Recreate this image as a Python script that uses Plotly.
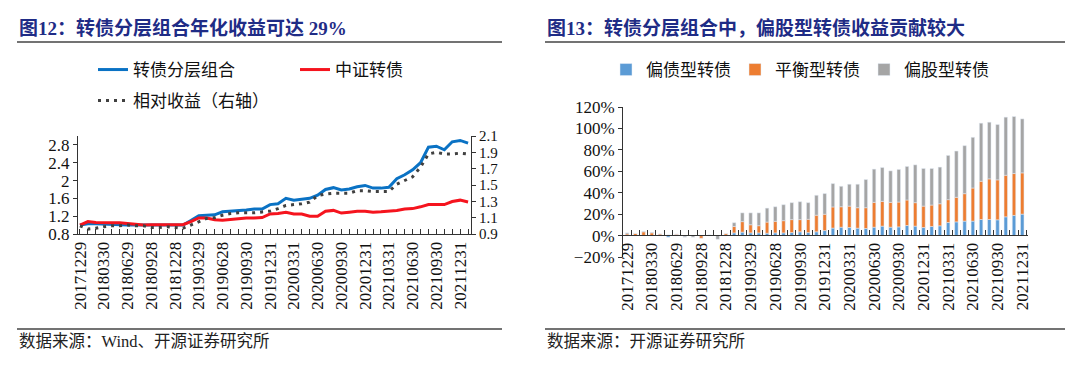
import plotly.graph_objects as go

# ---------------- data ----------------
dates = [
    "20171229",
    "20180131", "20180228", "20180330", "20180427", "20180531", "20180629",
    "20180731", "20180831", "20180928", "20181031", "20181130", "20181228",
    "20190131", "20190228", "20190329", "20190430", "20190531", "20190628",
    "20190731", "20190830", "20190930", "20191031", "20191129", "20191231",
    "20200123", "20200228", "20200331", "20200430", "20200529", "20200630",
    "20200731", "20200831", "20200930", "20201030", "20201130", "20201231",
    "20210129", "20210226", "20210331", "20210430", "20210531", "20210630",
    "20210730", "20210831", "20210930", "20211029", "20211130", "20211231",
    "20220128",
]

# 转债分层组合 (left axis)
portfolio = [
    1.00, 1.03, 1.03, 1.02, 1.02, 1.01, 1.00, 1.00, 1.00, 0.99,
    1.00, 1.00, 0.99, 1.00, 1.10, 1.21, 1.22, 1.23, 1.30, 1.31,
    1.33, 1.34, 1.36, 1.36, 1.46, 1.48, 1.60, 1.56, 1.58, 1.60,
    1.67, 1.80, 1.84, 1.79, 1.81, 1.86, 1.89, 1.83, 1.83, 1.85,
    2.04, 2.13, 2.24, 2.40, 2.75, 2.77, 2.69, 2.87, 2.90, 2.84,
]
# 中证转债 (left axis)
cb_index = [
    1.00, 1.08, 1.06, 1.05, 1.05, 1.05, 1.03, 1.01, 1.00, 1.01,
    1.01, 1.01, 1.02, 1.01, 1.08, 1.16, 1.16, 1.12, 1.11, 1.13,
    1.15, 1.16, 1.16, 1.17, 1.25, 1.26, 1.29, 1.25, 1.25, 1.20,
    1.20, 1.31, 1.33, 1.27, 1.29, 1.31, 1.31, 1.29, 1.30, 1.31,
    1.33, 1.36, 1.37, 1.41, 1.46, 1.46, 1.46, 1.53, 1.56, 1.52,
]
# 相对收益 (right axis)
relative = [
    1.00, 0.96, 0.97, 0.99, 1.00, 1.00, 1.01, 1.00, 1.00, 0.98,
    0.98, 0.99, 0.98, 0.97, 1.01, 1.05, 1.09, 1.10, 1.13, 1.15,
    1.16, 1.16, 1.16, 1.17, 1.18, 1.21, 1.25, 1.26, 1.27, 1.29,
    1.37, 1.39, 1.40, 1.40, 1.40, 1.43, 1.43, 1.42, 1.42, 1.42,
    1.51, 1.56, 1.60, 1.72, 1.88, 1.90, 1.88, 1.88, 1.89, 1.88,
]

bar_dates = dates[:49]
# contributions (fraction)
bond_like = [
    0.000, 0.000, 0.000, 0.000, 0.000, -0.015, 0.000, -0.005, 0.000, 0.000,
    0.000, 0.000, 0.000, 0.025, 0.032, 0.025, 0.025, 0.022, 0.025, 0.025,
    0.028, 0.035, 0.028, 0.035, 0.047, 0.070, 0.078, 0.075, 0.069, 0.066,
    0.078, 0.088, 0.078, 0.081, 0.094, 0.088, 0.075, 0.085, 0.091, 0.122,
    0.128, 0.135, 0.135, 0.150, 0.150, 0.147, 0.175, 0.188, 0.200,
]
balanced = [
    0.015, 0.020, 0.035, 0.025, 0.015, 0.005, 0.013, 0.000, 0.000, -0.025,
    0.005, 0.000, 0.018, 0.060, 0.098, 0.076, 0.067, 0.104, 0.108, 0.114,
    0.121, 0.114, 0.124, 0.155, 0.152, 0.197, 0.191, 0.200, 0.191, 0.194,
    0.232, 0.231, 0.232, 0.232, 0.238, 0.219, 0.200, 0.200, 0.206, 0.213,
    0.229, 0.256, 0.309, 0.357, 0.379, 0.373, 0.388, 0.391, 0.385,
]
equity_like = [
    0.010, 0.000, 0.005, 0.005, 0.000, 0.000, 0.000, -0.010, -0.015, 0.000,
    0.000, -0.035, 0.000, 0.035, 0.082, 0.111, 0.120, 0.130, 0.136, 0.149,
    0.158, 0.167, 0.155, 0.186, 0.193, 0.218, 0.191, 0.204, 0.219, 0.263,
    0.310, 0.316, 0.294, 0.304, 0.313, 0.353, 0.351, 0.341, 0.342, 0.413,
    0.432, 0.448, 0.473, 0.542, 0.529, 0.516, 0.542, 0.532, 0.504,
]

tick_text = [d if i % 3 == 0 else "" for i, d in enumerate(dates)]
bar_tick_text = [d if i % 3 == 0 else "" for i, d in enumerate(bar_dates)]

# ---------------- layout helpers ----------------
W, H = 1080, 376
def fx(p):
    return p / W
def fy(p):
    return 1 - p / H

SERIF = "Liberation Serif, 'Noto Sans CJK SC', serif"
TITLE_FONT = dict(family=SERIF, size=19, color="#1F2C86")
TICK_FONT = dict(family="Liberation Serif, serif", size=17, color="#111111")
TICK_FONT_R = dict(family="Liberation Serif, serif", size=15, color="#111111")
LEG_FONT = dict(family=SERIF, size=17, color="#111111")

BLUE = "#0A72C4"
RED = "#F5141E"
DOT = "#404040"
C_BOND = "#5B9BD5"
C_BAL = "#ED7D31"
C_EQ = "#A5A5A5"

fig = go.Figure()

fig.add_trace(go.Scatter(x=dates, y=portfolio, mode="lines", name="转债分层组合",
                         line=dict(color=BLUE, width=3), xaxis="x", yaxis="y",
                         legend="legend", showlegend=True))
fig.add_trace(go.Scatter(x=dates, y=cb_index, mode="lines", name="中证转债",
                         line=dict(color=RED, width=3), xaxis="x", yaxis="y",
                         legend="legend2", showlegend=True))
fig.add_trace(go.Scatter(x=dates, y=relative, mode="lines", name="相对收益（右轴）",
                         line=dict(color=DOT, width=3, dash="3px,5px"), xaxis="x", yaxis="y2",
                         legend="legend3", showlegend=True))

fig.add_trace(go.Bar(x=bar_dates, y=bond_like, name="偏债型转债", marker_color=C_BOND,
                     xaxis="x2", yaxis="y3", legend="legend4", showlegend=True))
fig.add_trace(go.Bar(x=bar_dates, y=balanced, name="平衡型转债", marker_color=C_BAL,
                     xaxis="x2", yaxis="y3", legend="legend4", showlegend=True))
fig.add_trace(go.Bar(x=bar_dates, y=equity_like, name="偏股型转债", marker_color=C_EQ,
                     xaxis="x2", yaxis="y3", legend="legend4", showlegend=True))

axis_common = dict(showgrid=False, zeroline=False, showline=True, linecolor="#333333",
                   linewidth=1, tickcolor="#333333", automargin=False)

fig.update_layout(
    width=W, height=H,
    margin=dict(l=0, r=0, t=0, b=0, autoexpand=False),
    paper_bgcolor="white", plot_bgcolor="white",
    showlegend=True,
    barmode="relative", bargap=0.58,
    xaxis=dict(domain=[fx(78), fx(471)], anchor="y", type="category",
               range=[-0.25, 49.37], tickmode="array", tickvals=dates, ticktext=tick_text,
               tickangle=-90, ticks="inside", ticklen=5, tickfont=TICK_FONT, **axis_common),
    yaxis=dict(domain=[fy(234), fy(136)], anchor="x", range=[0.8, 3.0],
               tick0=0.8, dtick=0.4, ticks="outside", ticklen=4, tickfont=TICK_FONT,
               **axis_common),
    yaxis2=dict(overlaying="y", anchor="x", side="right", range=[0.9, 2.1],
                tick0=0.9, dtick=0.2, ticks="outside", ticklen=4, tickformat=".1f",
                tickfont=TICK_FONT_R, **axis_common),
    xaxis2=dict(domain=[fx(623), fx(1028)], anchor="free", position=fy(235), type="category",
                range=[-0.5, 48.7], tickmode="array", tickvals=bar_dates, ticktext=bar_tick_text,
                tickson="boundaries", tickangle=-90, ticks="inside", ticklen=5,
                tickfont=TICK_FONT, **axis_common),
    yaxis3=dict(domain=[fy(257), fy(107)], anchor="x2", range=[-0.2, 1.2],
                tick0=-0.2, dtick=0.2, tickformat=".0%", ticks="outside", ticklen=4,
                tickfont=TICK_FONT, **axis_common),
    legend=dict(x=fx(93), y=fy(70), xanchor="left", yanchor="middle", font=LEG_FONT,
                bgcolor="rgba(0,0,0,0)", itemwidth=30),
    legend2=dict(x=fx(295), y=fy(70), xanchor="left", yanchor="middle", font=LEG_FONT,
                 bgcolor="rgba(0,0,0,0)", itemwidth=30),
    legend3=dict(x=fx(93), y=fy(101), xanchor="left", yanchor="middle", font=LEG_FONT,
                 bgcolor="rgba(0,0,0,0)", itemwidth=30),
    legend4=dict(x=fx(606), y=fy(70), xanchor="left", yanchor="middle", font=LEG_FONT,
                 orientation="h", bgcolor="rgba(0,0,0,0)", itemwidth=30,
                 entrywidth=84, entrywidthmode="pixels", traceorder="normal"),
)

annotations = [
    dict(text="<b>图12：转债分层组合年化收益可达 29%</b>", x=fx(17), y=fy(28),
         xanchor="left", yanchor="middle", font=TITLE_FONT),
    dict(text="<b>图13：转债分层组合中，偏股型转债收益贡献较大</b>", x=fx(545), y=fy(28),
         xanchor="left", yanchor="middle", font=TITLE_FONT),
    dict(text="数据来源：Wind、开源证券研究所", x=fx(17), y=fy(341),
         xanchor="left", yanchor="middle",
         font=dict(family=SERIF, size=16.5, color="#222222")),
    dict(text="数据来源：开源证券研究所", x=fx(545), y=fy(341),
         xanchor="left", yanchor="middle",
         font=dict(family=SERIF, size=16.5, color="#222222")),
]
for a in annotations:
    a.update(xref="paper", yref="paper", showarrow=False)
fig.update_layout(annotations=annotations)

shapes = []
for (x0, x1) in [(17, 502), (545, 1065)]:
    for yy in (42, 329):
        shapes.append(dict(type="line", xref="paper", yref="paper",
                           x0=fx(x0), x1=fx(x1), y0=fy(yy), y1=fy(yy),
                           line=dict(color="#444444", width=1.5)))
fig.update_layout(shapes=shapes)

fig.write_html("out.html", config={"displayModeBar": False},
               post_script="document.body.style.margin='0';document.body.style.overflow='hidden';")
